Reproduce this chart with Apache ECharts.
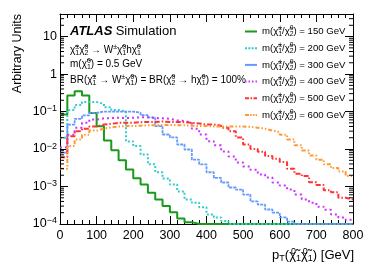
<!DOCTYPE html>
<html><head><meta charset="utf-8">
<script src="https://cdn.jsdelivr.net/npm/echarts@6/dist/echarts.min.js"></script>
<style>html,body{margin:0;padding:0;background:#fff}#c{width:374px;height:268px}</style>
</head><body><div id="c"></div>
<script>
// ---- data ----
const binWidth = 20;          // GeV
const binCount = 40;          // 0..800 GeV
const massLabels = ['150', '200', '300', '400', '500', '600'];
const m150 = [0.083, 0.267, 0.348, 0.267, 0.092, 0.0406, 0.0169, 0.0093, 0.0050, 0.00284,
  0.00166, 0.00113, 0.00068, 0.00045, 0.00030, 0.000206, 0.00014, 0.000112, 0.0001, 0.0001,
  0.0001, 0.0001, 0.0001, 0.0001, 0.0001, 0.0001, 0.0001, 0.0001, 0.0001, 0.0001,
  0.0001, 0.0001, 0.0001, 0.0001, 0.0001, 0.0001, 0.0001, 0.0001, 0.0001, 0.0001];
const m200 = [0.02, 0.11, 0.15, 0.18, 0.18, 0.16, 0.13, 0.11, 0.1, 0.016,
  0.012, 0.0071, 0.0039, 0.0024, 0.00163, 0.00113, 0.00074, 0.00045, 0.00037, 0.00028,
  0.00018, 0.00015, 0.00012, 0.0001, 0.0001, 0.0001, 0.0001, 0.0001, 0.0001, 0.0001,
  0.0001, 0.0001, 0.0001, 0.0001, 0.0001, 0.0001, 0.0001, 0.0001, 0.0001, 0.0001];
const m300 = [0.008, 0.045, 0.064, 0.079, 0.092, 0.1, 0.1, 0.1, 0.1, 0.1,
  0.093, 0.08, 0.07, 0.041, 0.0244, 0.0204, 0.0132, 0.0097, 0.0052, 0.0039,
  0.0024, 0.0017, 0.00128, 0.00094, 0.00083, 0.00061, 0.0004, 0.00033, 0.000244, 0.0002,
  0.00015, 0.000116, 0.0001, 0.0001, 0.0001, 0.0001, 0.0001, 0.0001, 0.0001, 0.0001];
const m400 = [0.011, 0.024, 0.037, 0.05, 0.061, 0.066, 0.067, 0.068, 0.067, 0.068,
  0.07, 0.07, 0.067, 0.066, 0.064, 0.058, 0.056, 0.05, 0.035, 0.0244,
  0.0162, 0.0127, 0.0086, 0.0063, 0.0044, 0.0034, 0.0028, 0.0021, 0.00174, 0.00128,
  0.00106, 0.00083, 0.00061, 0.00045, 0.00037, 0.00029, 0.00024, 0.00018, 0.00015, 0.00013];
const m500 = [0.006, 0.022, 0.03, 0.035, 0.04, 0.045, 0.047, 0.05, 0.05, 0.05,
  0.052, 0.053, 0.053, 0.054, 0.053, 0.053, 0.052, 0.05, 0.048, 0.045,
  0.045, 0.042, 0.037, 0.03, 0.0203, 0.0132, 0.01, 0.0085, 0.0065, 0.0055,
  0.0045, 0.003, 0.0022, 0.0019, 0.0013, 0.0011, 0.0008, 0.0007, 0.0005, 0.00045];
const m600 = [0.003, 0.012, 0.018, 0.024, 0.031, 0.035, 0.038, 0.04, 0.041, 0.041,
  0.042, 0.043, 0.043, 0.044, 0.044, 0.043, 0.043, 0.042, 0.041, 0.041,
  0.04, 0.04, 0.04, 0.04, 0.04, 0.039, 0.037, 0.035, 0.031, 0.028,
  0.024, 0.018, 0.0127, 0.0091, 0.0067, 0.0052, 0.0039, 0.0031, 0.0025, 0.0019];
const seriesValues = [m150, m200, m300, m400, m500, m600];

// ---- styles ----
const FONT = "'Liberation Sans', Arial, Helvetica, sans-serif";
const colors = ['#1a9a1a', '#33cccc', '#6699ff', '#cc33ff', '#ff3333', '#ff9933'];
const dashTypes = ['solid', [2, 2], [3, 1], [2, 3], [5, 2, 1.5, 2], [4, 2, 1.5, 2, 1.5, 2]];
const widths = [2, 2, 1.8, 2, 2, 2];
const legendIcons = [
  'path://M0,0h12v2h-12z',
  'path://M0,0h2v2h-2z M3.33,0h2v2h-2z M6.67,0h2v2h-2z M10,0h2v2h-2z',
  'path://M0,0h12v2h-12z',
  'path://M0,0h1.5v2h-1.5z M3.5,0h1.5v2h-1.5z M7,0h1.5v2h-1.5z M10.5,0h1.5v2h-1.5z',
  'path://M0,0h4v2h-4z M5.5,0h1.5v2h-1.5z M8.5,0h3.5v2h-3.5z',
  'path://M0,0h4v2h-4z M5.2,0h1.5v2h-1.5z M7.9,0h1.5v2h-1.5z M10.6,0h1.4v2h-1.4z'
];
const chi = '\u03C7\u0303';

const edges = [];
for (let i = 0; i <= binCount; i++) edges.push(i * binWidth);

// log minor tick positions (axis decoration)
const minorTicks = [];
for (let e = -4; e <= 1; e++) for (let k = 2; k <= 9; k++) {
  const v = k * Math.pow(10, e);
  if (v < 40) minorTicks.push([0, v]);
}

const richBase = {
  n: {fontFamily: FONT, fontSize: 10, lineHeight: 13, color: '#000'},
  sp: {fontFamily: FONT, fontSize: 7, lineHeight: 8, verticalAlign: 'top', color: '#000', width: 0},
  su: {fontFamily: FONT, fontSize: 7, lineHeight: 8, verticalAlign: 'top', color: '#000'},
  sb: {fontFamily: FONT, fontSize: 7, lineHeight: 8, verticalAlign: 'bottom', color: '#000'}
};
const richLegend = {
  n: {fontFamily: FONT, fontSize: 9.6, lineHeight: 13, color: '#000'},
  sp: {fontFamily: FONT, fontSize: 6.8, lineHeight: 8, verticalAlign: 'top', color: '#000', width: 0},
  sb: {fontFamily: FONT, fontSize: 6.8, lineHeight: 8, verticalAlign: 'bottom', color: '#000'}
};

const chart = echarts.init(document.getElementById('c'), null, {renderer: 'canvas', width: 374, height: 268});

const lineSeries = massLabels.map((m, s) => ({
  name: m,
  type: 'line',
  step: 'end',
  symbol: 'none',
  showSymbol: false,
  clip: true,
  xAxisIndex: 0, yAxisIndex: 0,
  lineStyle: {color: colors[s], width: widths[s], type: dashTypes[s]},
  itemStyle: {color: colors[s]},
  z: 3,
  data: seriesValues[s].map((v, i) => [edges[i], v]).concat([[edges[binCount], seriesValues[s][binCount - 1]]])
}));

const tickSeries = {
  type: 'custom',
  silent: true,
  clip: false,
  z: 5,
  xAxisIndex: 0, yAxisIndex: 0,
  data: minorTicks,
  renderItem: function (params, api) {
    const v = api.value(1);
    const pl = api.coord([0, v]);
    const pr = api.coord([800, v]);
    return {type: 'group', children: [
      {type: 'line', shape: {x1: pl[0], y1: pl[1], x2: pl[0] + 4, y2: pl[1]}, style: {stroke: '#000', lineWidth: 1}},
      {type: 'line', shape: {x1: pr[0] - 4, y1: pr[1], x2: pr[0], y2: pr[1]}, style: {stroke: '#000', lineWidth: 1}}
    ]};
  }
};

const axisLineStyle = {show: true, onZero: false, lineStyle: {color: '#000', width: 1}};

function yLabel(v) {
  const e = Math.round(Math.log10(v));
  if (e === 1) return '{b|10}';
  if (e === 0) return '{b|1}';
  return '{b|10}{s|\u2212' + (-e) + '}';
}

chart.setOption({
  animation: false,
  backgroundColor: '#fff',
  grid: {left: 60, right: 21, top: 14, bottom: 44, containLabel: false},
  xAxis: [
    {type: 'value', position: 'bottom', min: 0, max: 800, interval: 100,
      axisLine: axisLineStyle,
      axisTick: {inside: true, length: 8, lineStyle: {color: '#000'}},
      minorTick: {show: true, splitNumber: 5, length: 4, lineStyle: {color: '#000'}},
      splitLine: {show: false}, minorSplitLine: {show: false},
      axisLabel: {fontFamily: FONT, fontSize: 12.5, color: '#000', margin: 5}},
    {type: 'value', position: 'top', min: 0, max: 800, interval: 100,
      axisLine: axisLineStyle,
      axisTick: {inside: true, length: 8, lineStyle: {color: '#000'}},
      minorTick: {show: true, splitNumber: 5, length: 4, lineStyle: {color: '#000'}},
      splitLine: {show: false}, axisLabel: {show: false}}
  ],
  yAxis: [
    {type: 'log', logBase: 10, min: 0.0001, max: 40, position: 'left',
      axisLine: axisLineStyle,
      axisTick: {inside: true, length: 8, lineStyle: {color: '#000'}},
      minorTick: {show: false},
      splitLine: {show: false},
      axisLabel: {showMaxLabel: false, margin: 3, formatter: yLabel,
        rich: {
          b: {fontFamily: FONT, fontSize: 12.5, lineHeight: 15, color: '#000'},
          s: {fontFamily: FONT, fontSize: 9, lineHeight: 9, verticalAlign: 'top', color: '#000'}
        }}},
    {type: 'log', logBase: 10, min: 0.0001, max: 40, position: 'right',
      axisLine: axisLineStyle,
      axisTick: {inside: true, length: 8, lineStyle: {color: '#000'}},
      minorTick: {show: false},
      splitLine: {show: false}, axisLabel: {show: false}}
  ],
  legend: {
    data: massLabels.map((m, s) => ({name: m, icon: legendIcons[s], itemStyle: {color: colors[s]}})),
    orient: 'vertical',
    left: 245, top: 25,
    padding: 0,
    itemWidth: 12, itemHeight: 2,
    itemGap: 3.7,
    selectedMode: false,
    formatter: function (name) {
      return '{n|m(' + chi + '}{sp|\u00B1}{sb|1}{n|/' + chi + '}{sp|0}{sb|2}{n|) = ' + name + ' GeV}';
    },
    textStyle: {fontFamily: FONT, fontSize: 9.6, color: '#000', rich: richLegend}
  },
  graphic: [
    {type: 'text', x: 70, y: 31, style: {
      text: '{a|ATLAS} {s|Simulation}', verticalAlign: 'middle', align: 'left',
      rich: {a: {fontFamily: FONT, fontSize: 13, fontWeight: 'bold', fontStyle: 'italic', color: '#000'},
             s: {fontFamily: FONT, fontSize: 13, color: '#000'}}}},
    {type: 'text', x: 70, y: 50, style: {
      text: '{n|' + chi + '}{sp|\u00B1}{sb|1}{n|' + chi + '}{sp|0}{sb|2}{n| \u2192 W}{su|\u00B1}{n|' + chi + '}{sp|0}{sb|1}{n|h' + chi + '}{sp|0}{sb|1}',
      verticalAlign: 'middle', align: 'left', rich: richBase}},
    {type: 'text', x: 70, y: 64, style: {
      text: '{n|m(' + chi + '}{sp|0}{sb|1}{n|) = 0.5 GeV}',
      verticalAlign: 'middle', align: 'left', rich: richBase}},
    {type: 'text', x: 70, y: 80, style: {
      text: '{n|BR(' + chi + '}{sp|\u00B1}{sb|1}{n| \u2192 W}{su|\u00B1}{n|' + chi + '}{sp|0}{sb|1}{n|) = BR(' + chi + '}{sp|0}{sb|2}{n| \u2192 h' + chi + '}{sp|0}{sb|1}{n|) = 100%}',
      verticalAlign: 'middle', align: 'left', rich: richBase}},
    {type: 'text', x: 18, y: 14, rotation: Math.PI / 2, style: {
      text: 'Arbitrary Units', fontFamily: FONT, fontSize: 12.5, fill: '#000',
      align: 'right', verticalAlign: 'middle'}},
    {type: 'text', x: 354, y: 255, style: {
      text: '{n|p}{sb|T}{n|(' + chi + '}{sp|0}{sb|1}{n|' + chi + '}{sp|0}{sb|1}{n|) [GeV]}',
      align: 'right', verticalAlign: 'middle',
      rich: {
        n: {fontFamily: FONT, fontSize: 13, lineHeight: 16, color: '#000'},
        sp: {fontFamily: FONT, fontSize: 9, lineHeight: 9, verticalAlign: 'top', color: '#000', width: 0},
        sb: {fontFamily: FONT, fontSize: 9, lineHeight: 9, verticalAlign: 'bottom', color: '#000'}
      }}}
  ],
  series: lineSeries.concat([tickSeries])
});
</script>
</body></html>
